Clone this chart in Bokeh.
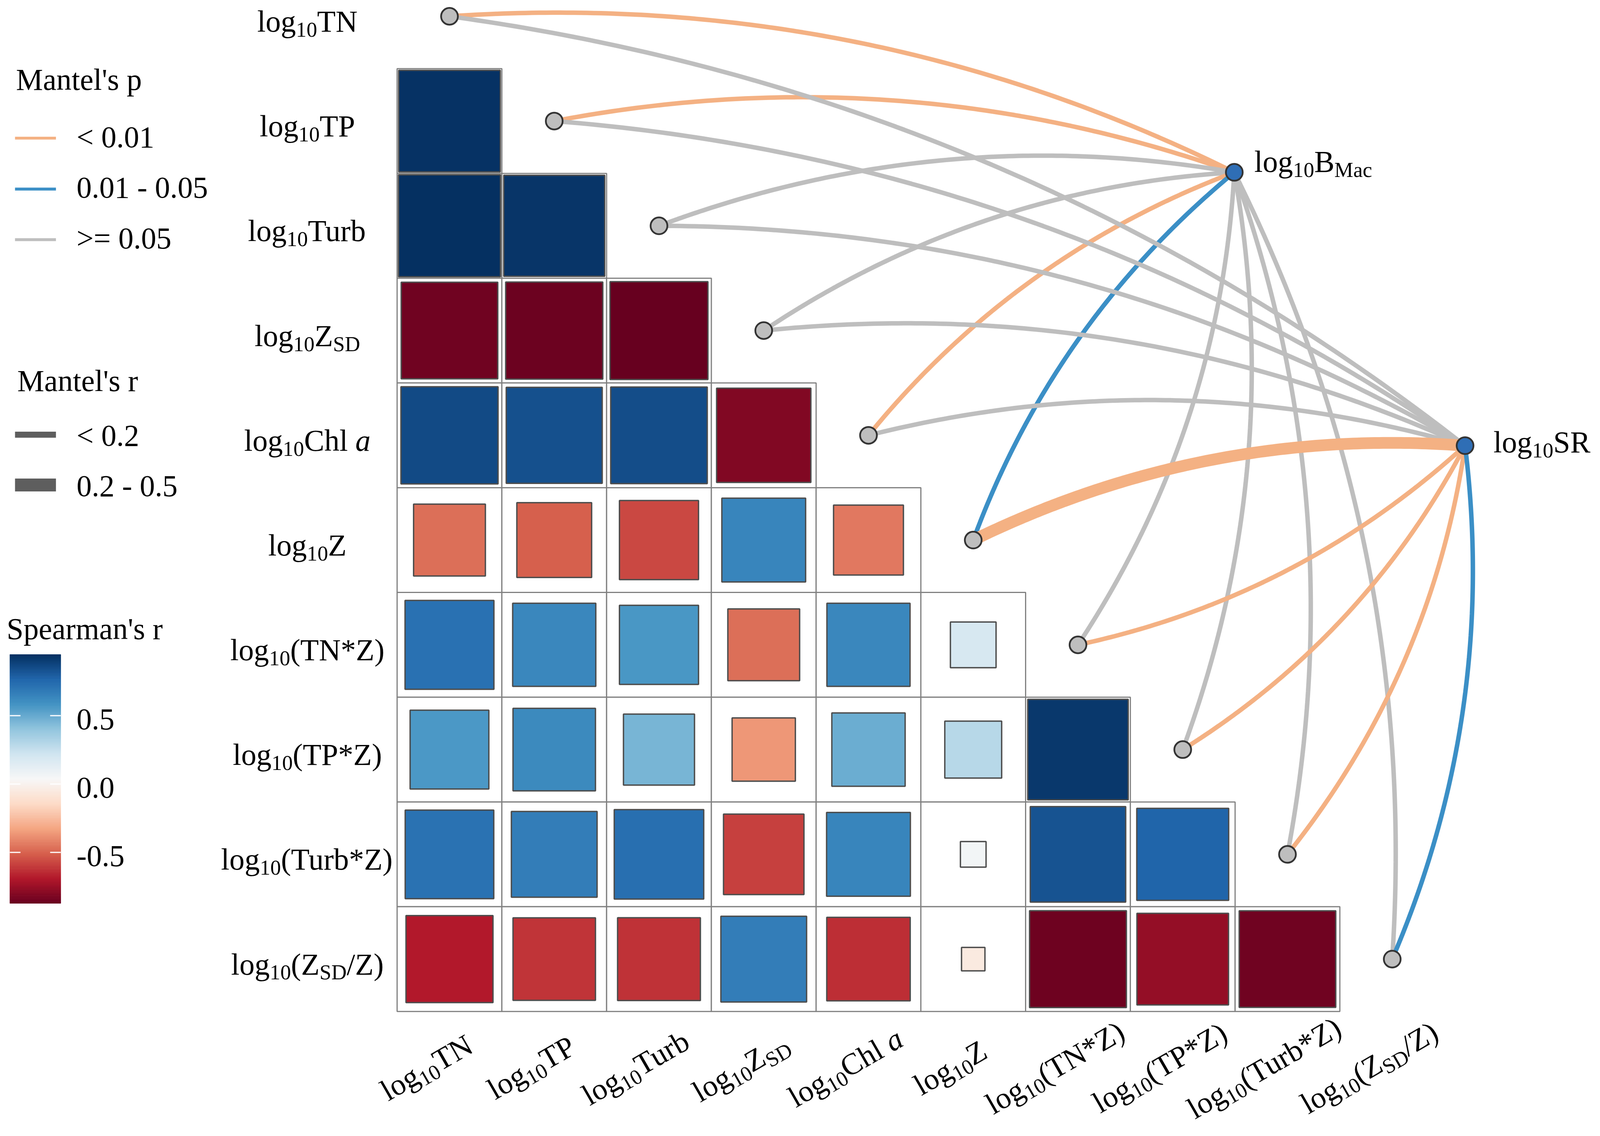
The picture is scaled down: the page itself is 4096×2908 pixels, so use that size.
import math
import numpy as np
from bokeh.plotting import figure
from bokeh.models import Range1d, ColumnDataSource
from bokeh.embed import file_html
from bokeh.resources import INLINE
from bokeh.core.properties import value, field

# ======================= DATA =======================
# label pieces: (text, kind)  kind: "m" main, "s" subscript, "i" italic
var_labels = [
    [("log", "m"), ("10", "s"), ("TN", "m")],
    [("log", "m"), ("10", "s"), ("TP", "m")],
    [("log", "m"), ("10", "s"), ("Turb", "m")],
    [("log", "m"), ("10", "s"), ("Z", "m"), ("SD", "s")],
    [("log", "m"), ("10", "s"), ("Chl ", "m"), ("a", "i")],
    [("log", "m"), ("10", "s"), ("Z", "m")],
    [("log", "m"), ("10", "s"), ("(TN*Z)", "m")],
    [("log", "m"), ("10", "s"), ("(TP*Z)", "m")],
    [("log", "m"), ("10", "s"), ("(Turb*Z)", "m")],
    [("log", "m"), ("10", "s"), ("(Z", "m"), ("SD", "s"), ("/Z)", "m")],
]
spec_labels = [
    [("log", "m"), ("10", "s"), ("B", "m"), ("Mac", "s")],
    [("log", "m"), ("10", "s"), ("SR", "m")],
]

# Spearman's r, lower triangle (row i holds columns 0..i-1)
spearman_r = [
    [],
    [0.94],
    [0.947, 0.93],
    [-0.85, -0.86, -0.873],
    [0.86, 0.84, 0.85, -0.81],
    [-0.47, -0.51, -0.57, 0.64, -0.445],
    [0.72, 0.63, 0.57, -0.47, 0.63, 0.19],
    [0.565, 0.62, 0.46, -0.365, 0.49, 0.295, 0.92],
    [0.715, 0.67, 0.73, -0.59, 0.64, 0.06, 0.83, 0.77],
    [-0.69, -0.62, -0.625, 0.67, -0.635, -0.05, -0.855, -0.765, -0.85],
]

spec_names = ["BMac", "SR"]
p_levels = ["< 0.01", "0.01 - 0.05", ">= 0.05"]
r_levels = ["< 0.2", "0.2 - 0.5"]
# Mantel test classes per spec (index into p_levels / r_levels), env order as var_labels
mantel_p = [
    [0, 0, 2, 2, 0, 1, 2, 2, 2, 2],
    [2, 2, 2, 2, 2, 0, 0, 0, 0, 1],
]
mantel_r = [
    [0, 0, 0, 0, 0, 0, 0, 0, 0, 0],
    [0, 0, 0, 0, 0, 1, 0, 0, 0, 0],
]
legend_titles = ["Mantel's p", "Mantel's r", "Spearman's r"]
cbar_ticks = [-0.5, 0.0, 0.5]
cbar_tick_labels = ["-0.5", "0.0", "0.5"]

# ======================= STYLE / LAYOUT =======================
S = 0.8251                    # output px per reference px
W_OUT, H_OUT = 4080, 2892
CELL = 325.0                  # reference px per cell
X0, Y0 = 1394.0, 50.0         # reference px of column 0 / row 0 centres
PXU = CELL * S                # output px per data unit
FONT = "Liberation Serif"
FS = 94 * S
SUB = 0.70
SUB_DROP = 0.21
BASE_FIX = 0.20               # empirical upward correction of the text baseline (em)

P_COLORS = ["#F4B183", "#3B8FC6", "#BEBEBE"]
R_WIDTHS = [11.5, 30.0]
RDBU = ["#67001F", "#B2182B", "#D6604D", "#F4A582", "#FDDBC7", "#F7F7F7",
        "#D1E5F0", "#92C5DE", "#4393C3", "#2166AC", "#053061"]

SPEC_POS_REF = [(3829, 534), (4545, 1382)]
SPEC_LAB_OFF = [(62, -14), (88, 8)]
CURV = 0.135

def ux(px):
    return (px - X0) / CELL

def uy(py):
    return (py - Y0) / CELL

TIMES = {' ': 250, "'": 180, '(': 333, ')': 333, '*': 500, '-': 333, '.': 250, '/': 278,
         '<': 564, '=': 564, '>': 564,
         'A': 722, 'B': 667, 'C': 667, 'D': 722, 'E': 611, 'F': 556, 'G': 722, 'H': 722,
         'I': 333, 'J': 389, 'K': 722, 'L': 611, 'M': 889, 'N': 722, 'O': 722, 'P': 556,
         'Q': 722, 'R': 667, 'S': 556, 'T': 611, 'U': 722, 'V': 722, 'W': 944, 'X': 722,
         'Y': 722, 'Z': 611,
         'a': 444, 'b': 500, 'c': 444, 'd': 500, 'e': 444, 'f': 333, 'g': 500, 'h': 500,
         'i': 278, 'j': 278, 'k': 500, 'l': 278, 'm': 778, 'n': 500, 'o': 500, 'p': 500,
         'q': 500, 'r': 333, 's': 389, 't': 278, 'u': 500, 'v': 500, 'w': 722, 'x': 500,
         'y': 500, 'z': 444}

def text_w(s, size, italic=False):
    tot = 0
    for c in s:
        if italic and c == 'a':
            tot += 500
        elif c.isdigit():
            tot += 500
        else:
            tot += TIMES.get(c, 500)
    return tot / 1000.0 * size

def rdbu(v, lo, hi):
    t = min(max((v - lo) / (hi - lo), 0.0), 1.0) * 10
    i = min(int(math.floor(t)), 9)
    f = t - i
    a = RDBU[i]; b = RDBU[i + 1]
    ca = [int(a[k:k + 2], 16) for k in (1, 3, 5)]
    cb = [int(b[k:k + 2], 16) for k in (1, 3, 5)]
    c = [round(ca[k] + (cb[k] - ca[k]) * f) for k in range(3)]
    return "#%02x%02x%02x" % tuple(c)

# ======================= FIGURE =======================
p = figure(width=W_OUT, height=H_OUT,
           x_range=Range1d(ux(0), ux(W_OUT / S)),
           y_range=Range1d(uy(H_OUT / S), uy(0)),
           output_backend="svg", toolbar_location=None,
           x_axis_location=None, y_axis_location=None,
           min_border=0, outline_line_color=None,
           background_fill_color="white", border_fill_color="white")
p.grid.grid_line_color = None

texts = dict(x=[], y=[], text=[], fs=[], style=[], angle=[])

def place(parts, ax, ay, fs, align="left", angle=0.0):
    """ax, ay: data position of the baseline anchor (left / centre / right)."""
    pieces = []
    cur = 0.0
    for t, k in parts:
        if k == "s":
            size, drop, style = fs * SUB, fs * SUB_DROP, "normal"
        elif k == "i":
            size, drop, style = fs, 0.0, "italic"
        else:
            size, drop, style = fs, 0.0, "normal"
        pieces.append((t, size, style, cur, drop - BASE_FIX * size))
        cur += text_w(t, size, k == "i")
    shift = {"left": 0.0, "center": -cur / 2.0, "right": -cur}[align]
    c, s = math.cos(angle), math.sin(angle)
    for t, size, style, dx, dy in pieces:
        dx += shift
        ox = dx * c + dy * s
        oy = -dx * s + dy * c
        texts["x"].append(ax + ox / PXU)
        texts["y"].append(ay + oy / PXU)
        texts["text"].append(t)
        texts["fs"].append("%.1fpx" % size)
        texts["style"].append(style)
        texts["angle"].append(angle)

n = len(var_labels)
all_r = [v for row in spearman_r for v in row]
r_lo, r_hi = min(all_r), max(all_r)

# ---- cells ----
cx, cy, sq_side, sq_col = [], [], [], []
for i in range(n):
    for j, r in enumerate(spearman_r[i]):
        cx.append(j); cy.append(i)
        sq_side.append(math.sqrt(abs(r)))
        sq_col.append(rdbu(r, r_lo, r_hi))
p.rect(x=cx, y=cy, width=1, height=1, fill_color="white",
       line_color="#808080", line_width=3)
p.rect(x=cx, y=cy, width=sq_side, height=sq_side, fill_color=sq_col,
       line_color="#4D4D4D", line_width=3.5)

# ---- curves ----
spec_xy = [(ux(a), uy(b)) for a, b in SPEC_POS_REF]
xs, ys, lc, lw = [], [], [], []
tt = np.linspace(0, 1, 120)
for si in range(len(spec_names)):
    sx, sy = spec_xy[si]
    for e in range(n):
        ex, ey = float(e), float(e)
        vx, vy = sx - ex, sy - ey
        d = math.hypot(vx, vy)
        nx, ny = vy / d, -vx / d            # left normal (screen, y down)
        sign = 1.0 if e < 6 else -1.0
        h = CURV * d / 2.0
        ctrlx = (ex + sx) / 2 + sign * nx * 2 * h
        ctrly = (ey + sy) / 2 + sign * ny * 2 * h
        bx = (1 - tt) ** 2 * ex + 2 * (1 - tt) * tt * ctrlx + tt ** 2 * sx
        by = (1 - tt) ** 2 * ey + 2 * (1 - tt) * tt * ctrly + tt ** 2 * sy
        xs.append(list(bx)); ys.append(list(by))
        lc.append(P_COLORS[mantel_p[si][e]])
        lw.append(R_WIDTHS[mantel_r[si][e]])
p.multi_line(xs="xs", ys="ys", line_color="lc", line_width="lw",
             source=ColumnDataSource(dict(xs=xs, ys=ys, lc=lc, lw=lw)))

# ---- nodes ----
p.scatter(x=list(range(n)), y=list(range(n)), size=43, marker="circle",
          fill_color="#BEBEBE", line_color="#333333", line_width=4.5)
p.scatter(x=[a for a, b in spec_xy], y=[b for a, b in spec_xy], size=43,
          marker="circle", fill_color="#2F6EB5", line_color="#333333", line_width=4.5)

# ---- axis-like labels ----
ROW_LAB_CX = 953
ROW_LAB_DY = 35
XLAB_DX, XLAB_Y = -62, 3328
ang = math.radians(30)
for i in range(n):
    place(var_labels[i], ux(ROW_LAB_CX), i + ROW_LAB_DY / CELL, FS, "center")
    place(var_labels[i], i + XLAB_DX / CELL, uy(XLAB_Y), FS, "center", ang)
for si in range(len(spec_names)):
    (a, b), (ox, oy) = SPEC_POS_REF[si], SPEC_LAB_OFF[si]
    place(spec_labels[si], ux(a + ox), uy(b + oy), FS)

# ---- legends ----
LEG_LX0, LEG_LX1, LEG_TX = 46, 173, 237
place([(legend_titles[0], "m")], ux(49), uy(265), FS)
for k, (yl, yt) in enumerate([(428, 444), (586, 600), (743, 758)]):
    p.line(x=[ux(LEG_LX0), ux(LEG_LX1)], y=[uy(yl), uy(yl)],
           line_color=P_COLORS[k], line_width=7.4)
    place([(p_levels[k], "m")], ux(LEG_TX), uy(yt), FS)
place([(legend_titles[1], "m")], ux(53), uy(1200), FS)
for k, (yl, yt, w) in enumerate([(1348, 1369, 15.5), (1504, 1526, 33.0)]):
    p.line(x=[ux(LEG_LX0), ux(LEG_LX1)], y=[uy(yl), uy(yl)],
           line_color="#5E5E5E", line_width=w)
    place([(r_levels[k], "m")], ux(LEG_TX), uy(yt), FS)

# ---- colour bar ----
place([(legend_titles[2], "m")], ux(20), uy(1970), FS)
CB_X0, CB_X1, CB_TOP, CB_BOT = 30, 188, 2030, 2802
nb = 240
vals = np.linspace(r_lo, r_hi, nb + 1)
def cb_y(v):
    return CB_BOT - (v - r_lo) / (r_hi - r_lo) * (CB_BOT - CB_TOP)
cols = [rdbu((vals[k] + vals[k + 1]) / 2, r_lo, r_hi) for k in range(nb)]
p.quad(left=[ux(CB_X0)] * nb, right=[ux(CB_X1)] * nb,
       bottom=[uy(cb_y(vals[k])) for k in range(nb)],
       top=[uy(cb_y(vals[k + 1])) for k in range(nb)],
       fill_color=cols, line_color=cols, line_width=1)
for v, lab in zip(cbar_ticks, cbar_tick_labels):
    yv = uy(cb_y(v))
    p.segment(x0=[ux(CB_X0), ux(CB_X1 - 33)], x1=[ux(CB_X0 + 33), ux(CB_X1)],
              y0=[yv, yv], y1=[yv, yv], line_color="white", line_width=3)
    place([(lab, "m")], ux(LEG_TX), uy(cb_y(v) + 30), FS)

p.text(x="x", y="y", text="text", source=ColumnDataSource(texts),
       text_font=value(FONT), text_font_size=field("fs"),
       text_font_style=field("style"), angle=field("angle"),
       text_align="left", text_baseline="alphabetic", text_color="black")

open("out.html", "w").write(file_html(p, INLINE))
